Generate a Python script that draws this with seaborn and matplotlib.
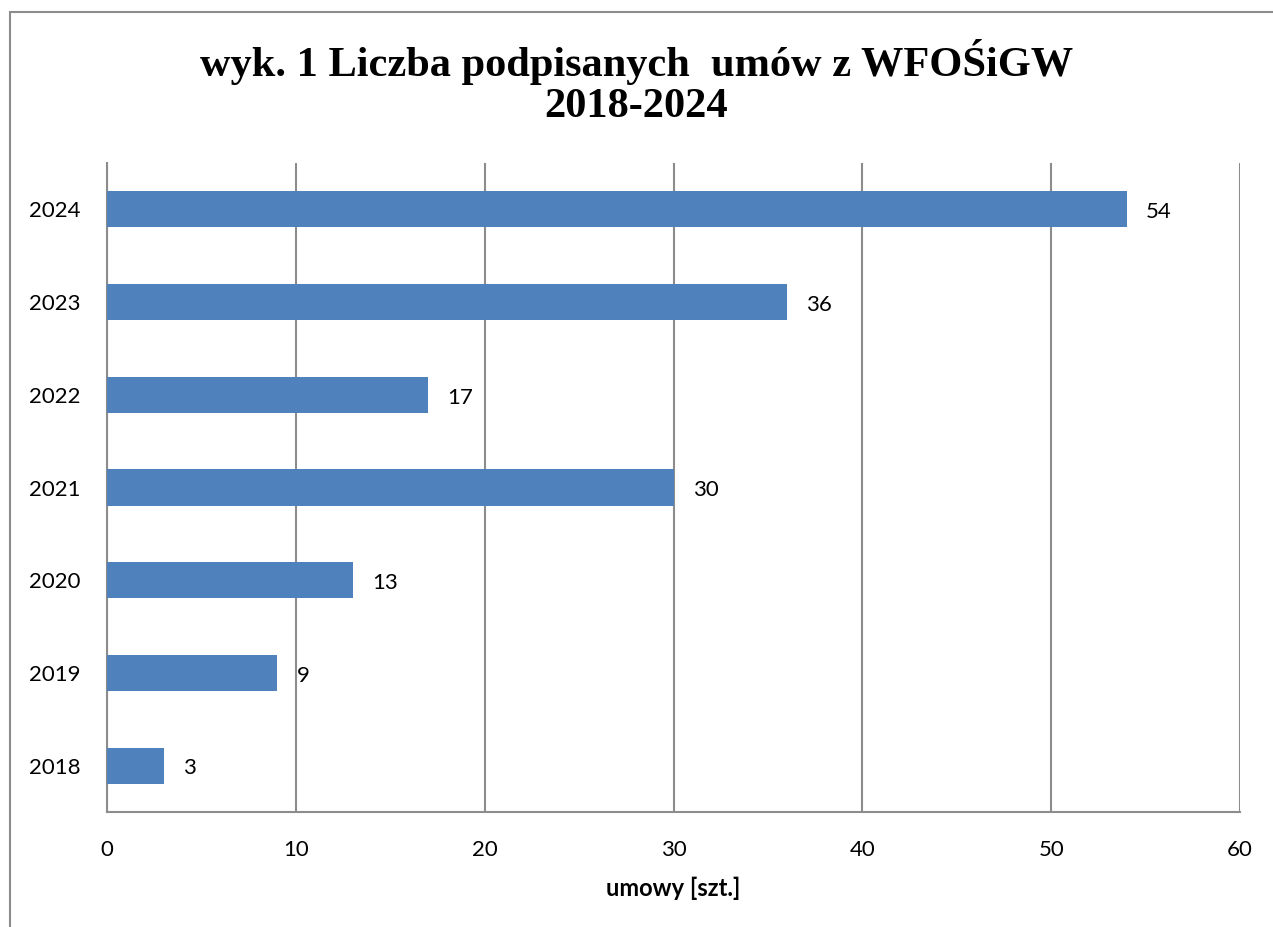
import matplotlib
matplotlib.use("Agg")
import matplotlib.pyplot as plt
import seaborn as sns
import pandas as pd

# data (top to bottom as shown)
years  = ["2024", "2023", "2022", "2021", "2020", "2019", "2018"]
umowy  = [54, 36, 17, 30, 13, 9, 3]
xticks = [0, 10, 20, 30, 40, 50, 60]

BAR   = "#4F81BD"
GRID  = "#8C8C8C"

sns.set_theme(style="white")
plt.rcParams["font.family"] = ["Lato", "DejaVu Sans"]
plt.rcParams["text.color"] = "black"
plt.rcParams["xtick.color"] = "black"
plt.rcParams["ytick.color"] = "black"
plt.rcParams["axes.labelcolor"] = "black"

df = pd.DataFrame({"rok": years, "umowy": umowy})

fig = plt.figure(figsize=(12.73, 9.27), dpi=100)
ax = fig.add_axes([0.0841, 0.124, 0.8900, 0.7002])

sns.barplot(data=df, x="umowy", y="rok", order=years, color=BAR,
            width=0.39, saturation=1, linewidth=0, ax=ax, zorder=3)

for i, v in enumerate(umowy):
    ax.annotate(f"{v}", (v, i), xytext=(14, -2), textcoords="offset points",
                va="center", ha="left", fontsize=16, color="black")

ax.set_xlim(0, 60)
ax.set_ylim(6.5, -0.5)
ax.set_xticks(xticks)
ax.set_xticklabels([str(t) for t in xticks], fontsize=16)
ax.tick_params(axis="y", labelsize=16, length=0, pad=19)
ax.tick_params(axis="x", length=0, pad=20)
ax.xaxis.grid(True, color=GRID, linewidth=1.5, zorder=0)
ax.yaxis.grid(False)
ax.spines["top"].set_visible(False)
ax.spines["right"].set_visible(False)
ax.spines["left"].set_color(GRID)
ax.spines["bottom"].set_color(GRID)
ax.spines["left"].set_linewidth(1.5)
ax.spines["bottom"].set_linewidth(1.5)
ax.set_ylabel("")
ax.set_xlabel("umowy [szt.]", fontsize=17, fontweight="bold", labelpad=12)

fig.text(0.5, 0.911, "wyk. 1 Liczba podpisanych  umów z WFOŚiGW\n2018-2024",
         ha="center", va="center", fontsize=30.5, fontweight="bold", color="black",
         family=["Liberation Serif", "DejaVu Serif"], linespacing=1.1)

# outer chart frame (cropped at right and bottom)
frame = plt.Rectangle((10 / 1273, -0.05), 1.2, 1 - 12 / 927 + 0.05,
                      transform=fig.transFigure, fill=False,
                      edgecolor="#8C8C8C", linewidth=1.5)
fig.add_artist(frame)

fig.savefig("out.png", dpi=100)
